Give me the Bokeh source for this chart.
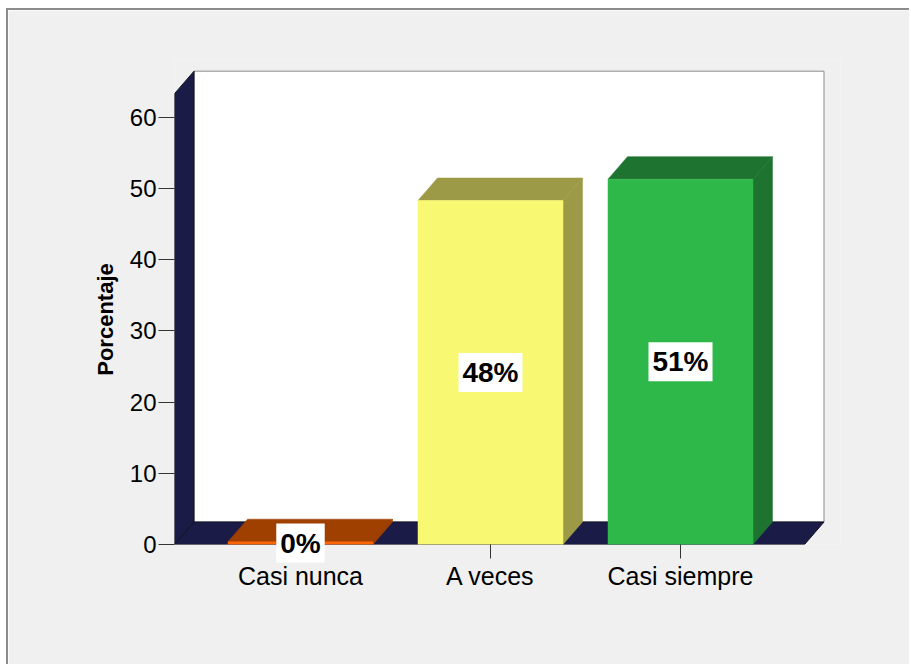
import math
from bokeh.plotting import figure
from bokeh.models import Range1d, FixedTicker, Label
from bokeh.embed import file_html
from bokeh.resources import INLINE

# ---- data ----
categories = ["Casi nunca", "A veces", "Casi siempre"]
percentages = [0.4, 48.3, 51.3]
value_labels = ["0%", "48%", "51%"]
y_ticks = [0, 10, 20, 30, 40, 50, 60]
front_colors = ["#FF6600", "#F9F872", "#2EB84A"]
shade_colors = ["#A04000", "#9D9A47", "#1E7330"]
y_title = "Porcentaje"

# ---- layout ----
W, H = 903, 656
ML, MR, MT, MB = 166, 71, 50, 122
frame_w = W - ML - MR
frame_h = H - MT - MB
kx = 190.0      # px per category
ky = 7.122      # px per percent
x0 = -126.0 / kx
x_range = Range1d(x0, x0 + frame_w / kx)
y_range = Range1d(0, frame_h / ky)

dx = 19.5 / kx   # 3D depth offset (data units)
dy = 22.5 / ky
bar_w = 145.0 / kx
wall_top = 63.3
floor_left = x0
floor_right = x0 + 630.0 / kx

NAVY = "#1B1B48"

p = figure(width=W, height=H, x_range=x_range, y_range=y_range,
           output_backend="svg", toolbar_location=None,
           min_border_left=ML, min_border_right=MR,
           min_border_top=MT, min_border_bottom=MB,
           background_fill_color="#F0F0F0", border_fill_color="#F0F0F0",
           outline_line_color=None)
p.styles = {"margin-left": "6px", "margin-top": "8px",
            "border-left": "2px solid #8C8C8C", "border-top": "2px solid #8C8C8C"}
p.grid.visible = False

# back wall
p.quad(left=[floor_left + dx], right=[floor_right + dx], bottom=[dy], top=[wall_top + dy],
       fill_color="white", line_color="#8C8C8C", line_width=1)
# floor
p.patch([floor_left, floor_right, floor_right + dx, floor_left + dx], [0, 0, dy, dy],
        fill_color=NAVY, line_color="#111122", line_width=1)
# left wall
p.patch([floor_left, floor_left, floor_left + dx, floor_left + dx], [0, wall_top, wall_top + dy, dy],
        fill_color=NAVY, line_color="#111122", line_width=1)

# bars
for i, v in enumerate(percentages):
    l = i - bar_w / 2
    r = i + bar_w / 2
    p.patch([r, r + dx, r + dx, r], [0, dy, v + dy, v],
            fill_color=shade_colors[i], line_color=shade_colors[i], line_width=0.5)
    p.patch([l, r, r + dx, l + dx], [v, v, v + dy, v + dy],
            fill_color=shade_colors[i], line_color=shade_colors[i], line_width=0.5)
    p.quad(left=[l], right=[r], bottom=[0], top=[v],
           fill_color=front_colors[i], line_color=front_colors[i], line_width=0.5)

# value labels (low ones go to the side panel so they are not clipped)
for i, v in enumerate(percentages):
    lab = Label(x=i, y=v / 2, text=value_labels[i],
                text_font="Liberation Sans", text_font_style="bold",
                text_font_size="28px", text_color="black",
                text_align="center", text_baseline="middle",
                background_fill_color="white", padding=4)
    p.add_layout(lab, "below" if v / 2 * ky < 25 else "center")

# y title
p.add_layout(Label(x=x0 - 69.3 / kx, y=(544 - 319) / ky, text=y_title, angle=math.pi / 2,
                   text_font="Liberation Sans", text_font_style="bold",
                   text_font_size="22px", text_color="black",
                   text_align="center", text_baseline="middle"), "left")

# axes
p.yaxis.ticker = FixedTicker(ticks=y_ticks)
p.yaxis.axis_line_color = None
p.yaxis.major_tick_in = 0
p.yaxis.major_tick_out = 16
p.yaxis.minor_tick_line_color = None
p.yaxis.major_tick_line_color = "#333333"
p.yaxis.major_label_text_font = "Liberation Sans"
p.yaxis.major_label_text_font_size = "24px"
p.yaxis.major_label_text_color = "black"
p.yaxis.major_label_standoff = 2

p.xaxis.ticker = FixedTicker(ticks=list(range(len(categories))))
p.xaxis.major_label_overrides = {i: c for i, c in enumerate(categories)}
p.xaxis.axis_line_color = None
p.xaxis.major_tick_in = 0
p.xaxis.major_tick_out = 14
p.xaxis.minor_tick_line_color = None
p.xaxis.major_tick_line_color = "#333333"
p.xaxis.major_label_text_font = "Liberation Sans"
p.xaxis.major_label_text_font_size = "25px"
p.xaxis.major_label_text_color = "black"
p.xaxis.major_label_standoff = 3

open("out.html", "w").write(file_html(p, INLINE))
